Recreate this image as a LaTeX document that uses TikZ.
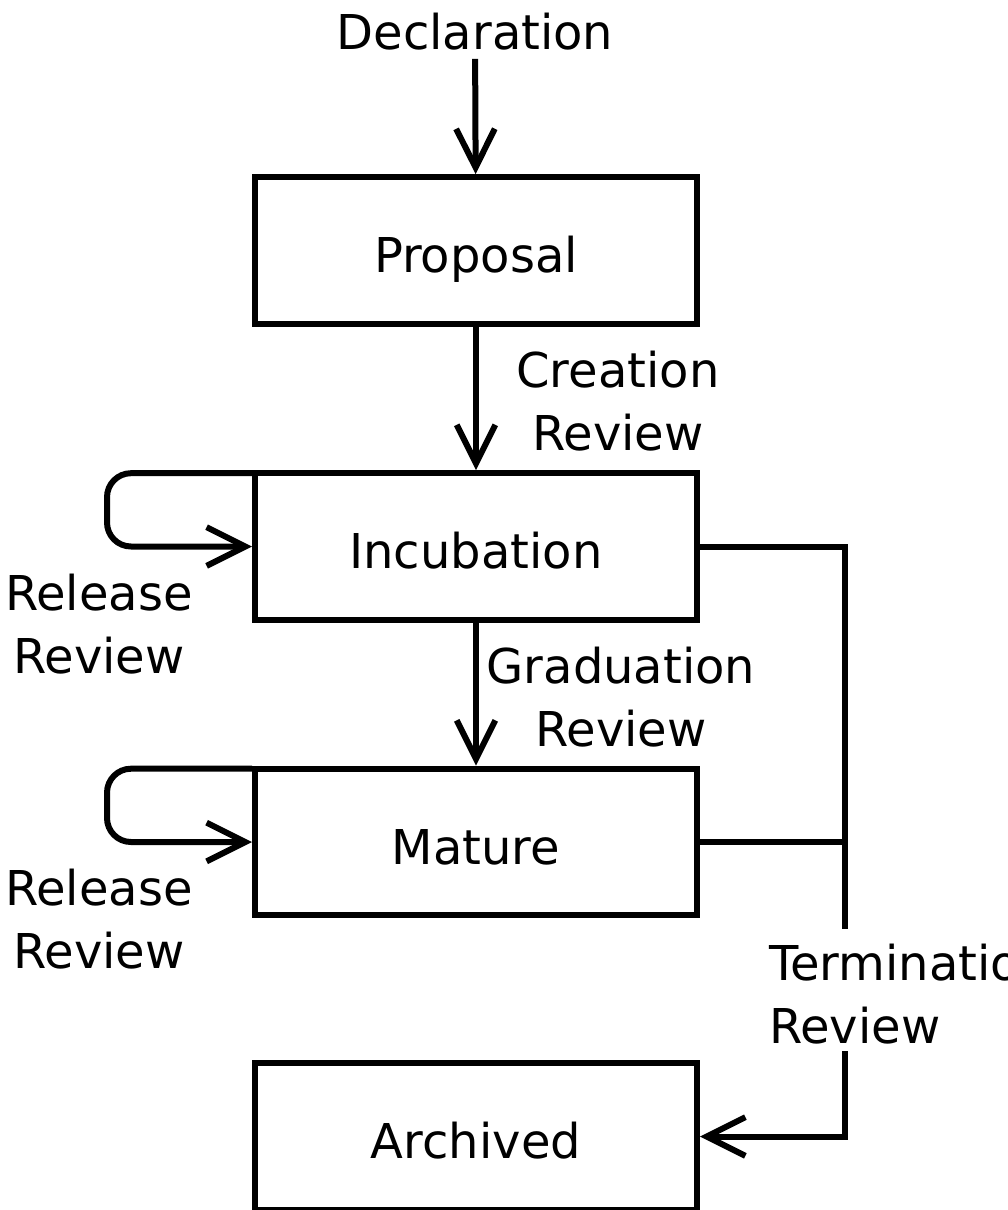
\documentclass[tikz,border=0pt]{standalone}
\usepackage{fontspec}
\setmainfont{DejaVu Sans}
\usetikzlibrary{arrows.meta,positioning}

\begin{document}
\begin{tikzpicture}[x=0.75pt, y=-0.75pt, line width=4.5pt,
  every node/.style={font=\fontsize{36}{47}\selectfont},
  stage/.style={draw, rectangle, minimum width=331.5pt, minimum height=110pt,
    text height=33pt, text depth=0pt},
  lbl/.style={align=center, inner sep=0pt},
  arr/.style={-{Straight Barb[length=29pt,width=29pt,line width=4.5pt]}}]
  \useasboundingbox (0,0) rectangle (1007,1210);
  \node (DECL) [inner sep=4pt] at (475,32) {Declaration};
  \node (PROPOSAL) [stage] at (476,250.5) {Proposal};
  \node (INCUB) [stage] at (476,546.5) {Incubation};
  \node (MATURE) [stage] at (476,842) {Mature};
  \node (ARCH) [stage] at (476,1136.5) {Archived};
  % main line
  \draw[arr] (DECL) -- (PROPOSAL);
  \draw[arr] (PROPOSAL) -- (INCUB);
  \node [lbl] at (618,401) {Creation\\Review};
  \draw[arr] (INCUB) -- (MATURE);
  \node [lbl] at (621,697) {Graduation\\Review};
  % release loops
  \draw[arr, rounded corners=18pt] (INCUB.west |- 0,473.2) -- (107,473.2) -- (107,546.5) -- (INCUB.west);
  \node [lbl] at (99,624) {Release\\Review};
  \draw[arr, rounded corners=18pt] (MATURE.west |- 0,768.7) -- (107,768.7) -- (107,842) -- (MATURE.west);
  \node [lbl] at (99,919) {Release\\Review};
  % termination
  \coordinate (TTOP) at (845,929);
  \coordinate (TBOT) at (845,1051);
  \draw (INCUB.east) -- (845,546.5) -- (TTOP);
  \draw (MATURE.east) -- (MATURE.east -| TTOP);
  \node [lbl, align=left, anchor=west] at (766,994) {Termination\\Review};
  \draw[arr] (TBOT) -- (845,1136.5) -- (ARCH.east);
\end{tikzpicture}
\end{document}
